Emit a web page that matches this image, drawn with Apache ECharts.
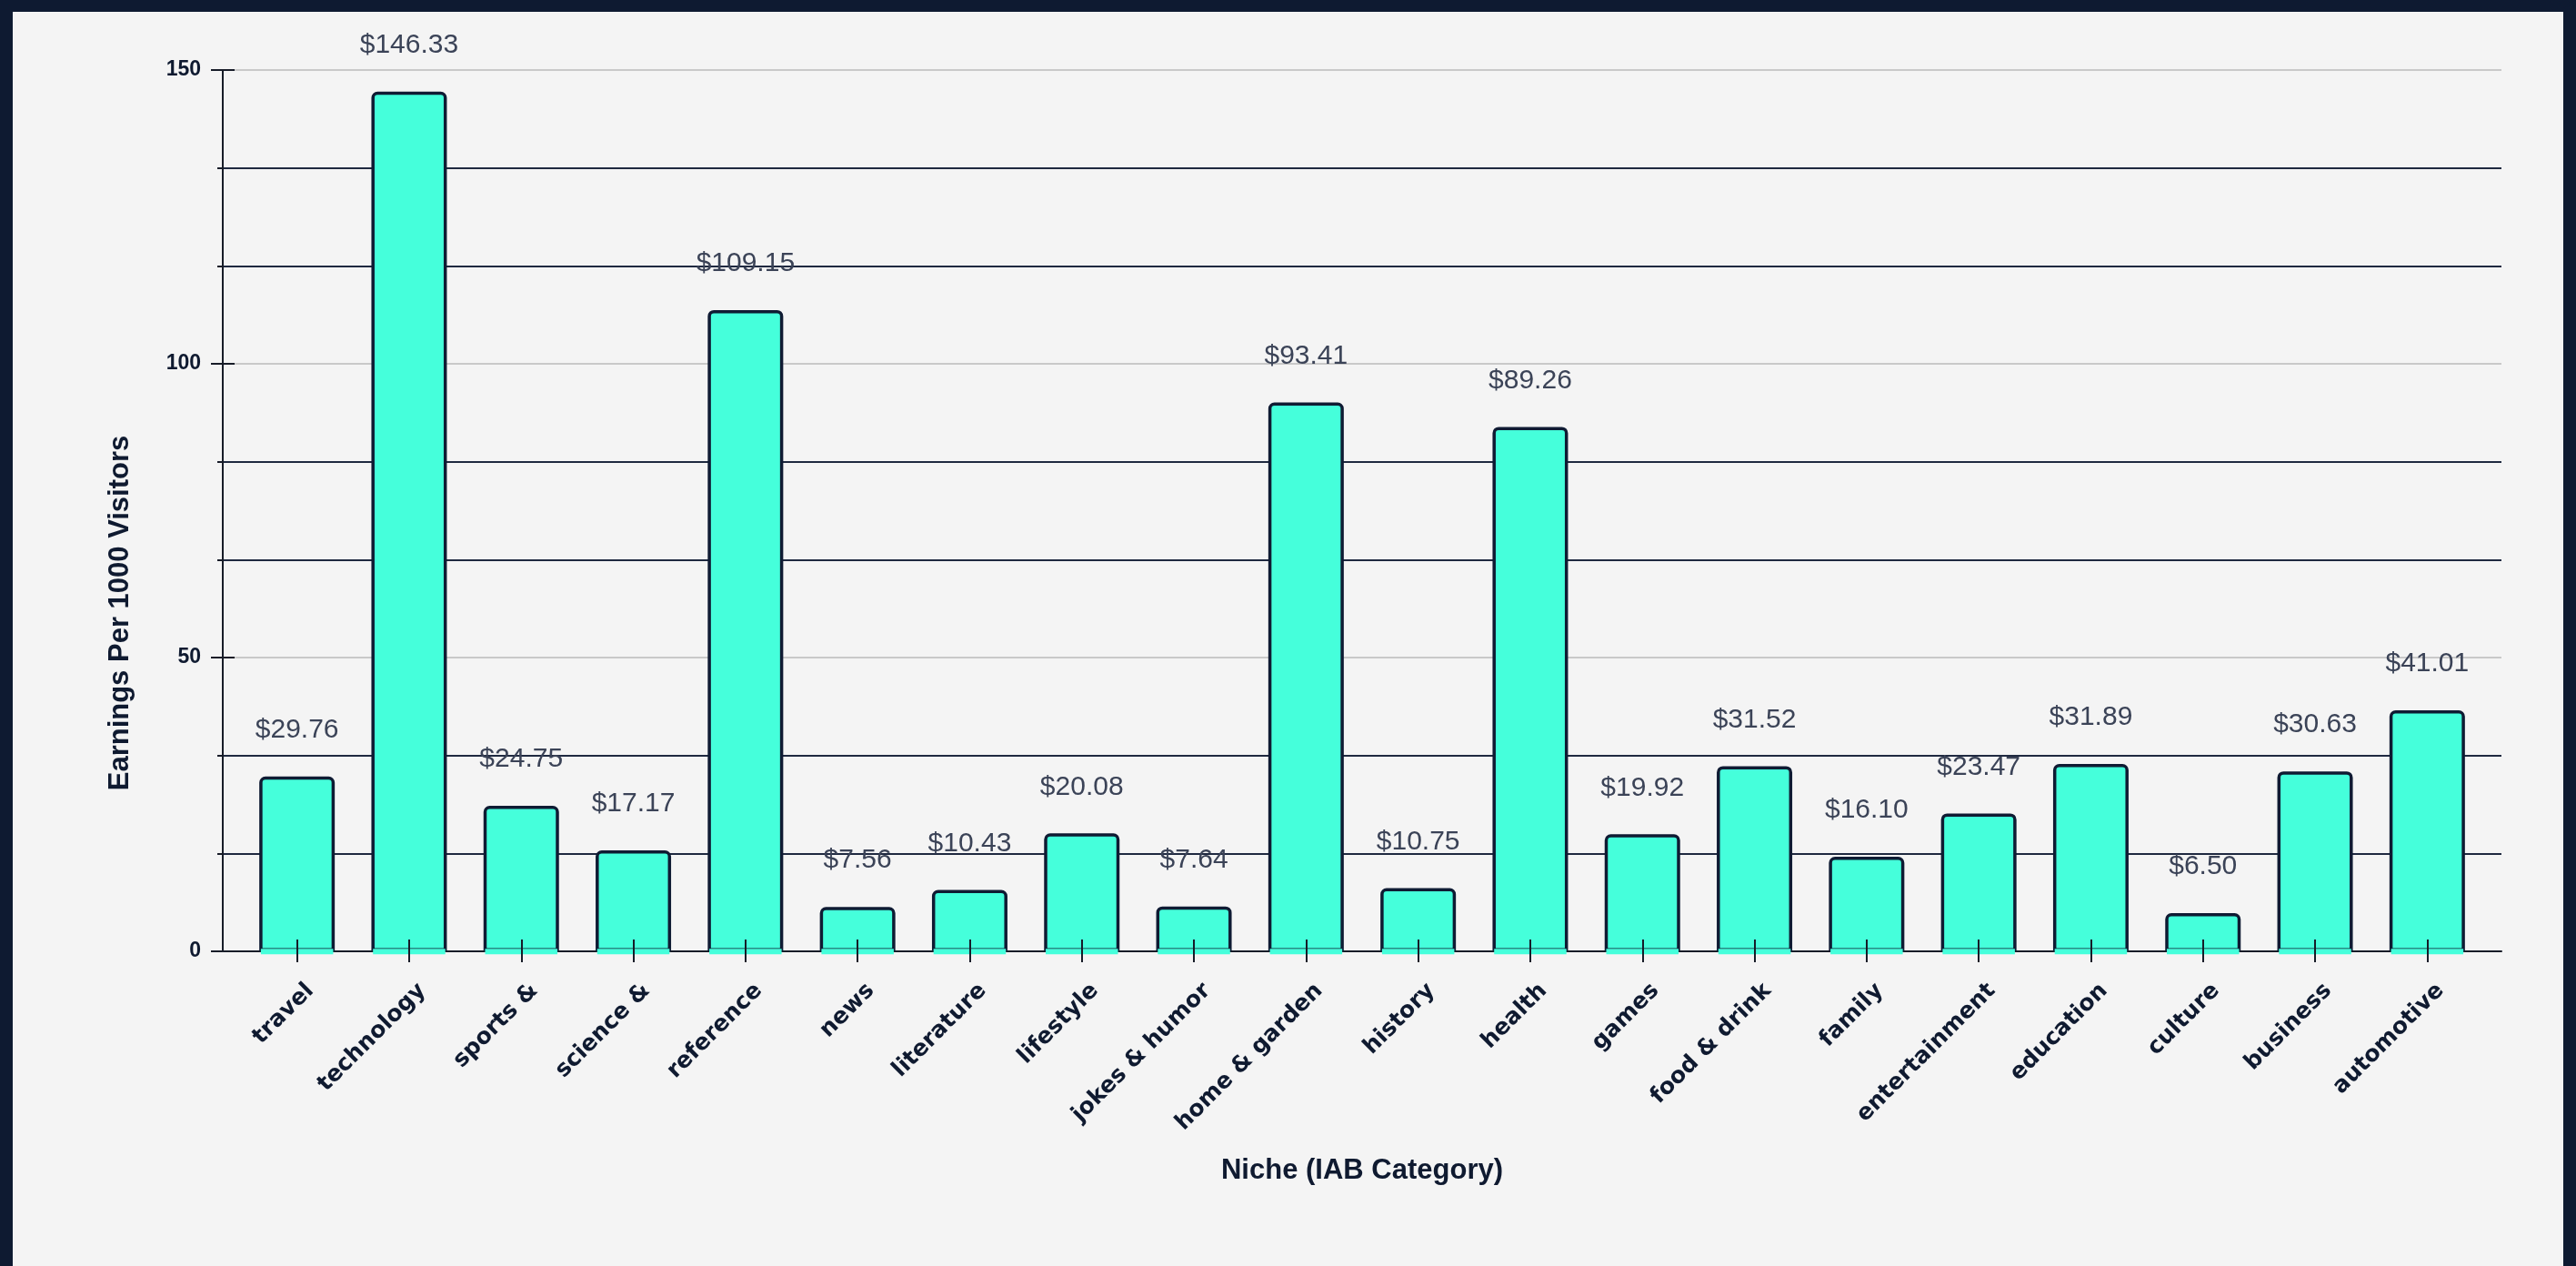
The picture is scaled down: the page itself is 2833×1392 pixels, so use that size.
<!DOCTYPE html>
<html>
<head>
<meta charset="utf-8">
<title>Earnings Per 1000 Visitors by Niche</title>
<script src="https://cdn.jsdelivr.net/npm/echarts@6/dist/echarts.min.js"></script>
<style>
  html, body { margin: 0; padding: 0; background: #0e1a31; overflow: hidden; }
  #chart { position: absolute; left: 14px; top: 13px; width: 2805px; height: 1379px; background: #f4f4f4; }
</style>
</head>
<body>
<div id="chart"></div>
<script>
// Niche categories (IAB) and their earnings per 1000 visitors, in USD
const categories = ['travel', 'technology', 'sports &', 'science &', 'reference', 'news', 'literature',
  'lifestyle', 'jokes & humor', 'home & garden', 'history', 'health', 'games', 'food & drink',
  'family', 'entertainment', 'education', 'culture', 'business', 'automotive'];
const earnings = [29.76, 146.33, 24.75, 17.17, 109.15, 7.56, 10.43, 20.08, 7.64, 93.41,
  10.75, 89.26, 19.92, 31.52, 16.10, 23.47, 31.89, 6.50, 30.63, 41.01];

// Value axis range and tick steps
const yMin = 0;
const yMax = 150;
const majorStep = 50;          // labelled ticks with light grid lines
const minorStep = 150 / 9;     // dark guide lines

const yTitle = 'Earnings Per 1000 Visitors';
const xTitle = 'Niche (IAB Category)';

const INK = '#0f1a30';
const LINE = '#171c28';
const FILL = '#45ffdb';
const BORDER_W = 3.5;
const BAR_W = 83;

const chart = echarts.init(document.getElementById('chart'), null, { renderer: 'canvas' });

const gridBox = { top: 64, height: 969 };

chart.setOption({
  animation: false,
  backgroundColor: '#f4f4f4',
  grid: [
    { left: 231, right: 68, top: gridBox.top, height: gridBox.height },
    { left: 251, right: 88, top: gridBox.top, height: gridBox.height }
  ],
  xAxis: [
    { // baseline across the full plot
      gridIndex: 0, type: 'value', min: 0, max: 1, position: 'bottom', z: 1,
      axisLine: { show: true, lineStyle: { color: LINE, width: 2 } },
      axisTick: { show: false }, axisLabel: { show: false }, splitLine: { show: false }
    },
    { // category labels with outward ticks
      gridIndex: 1, type: 'category', data: categories, z: 6, position: 'bottom',
      axisLine: { show: false },
      axisTick: { show: true, alignWithLabel: true, length: 12, lineStyle: { color: LINE, width: 2 } },
      axisLabel: {
        rotate: 45, interval: 0, margin: 25, align: 'right', verticalAlign: 'top',
        padding: [8, 0, 0, 0],
        fontFamily: 'DejaVu Sans', fontWeight: 'bold', fontSize: 25, color: INK
      },
      name: xTitle, nameLocation: 'middle', nameGap: 226,
      nameTextStyle: { fontFamily: 'Liberation Sans, Arial', fontWeight: 'bold', fontSize: 31, color: INK }
    },
    { // inward part of the category ticks, drawn over the bars
      gridIndex: 1, type: 'category', data: categories, z: 6, position: 'bottom',
      axisLine: { show: false },
      axisTick: { show: true, inside: true, alignWithLabel: true, length: 13, lineStyle: { color: LINE, width: 2 } },
      axisLabel: { show: false }
    }
  ],
  yAxis: [
    { // dark guide lines
      gridIndex: 0, type: 'value', min: yMin, max: yMax, interval: minorStep, z: 0, position: 'left',
      axisLine: { show: false },
      axisTick: { show: true, length: 6, lineStyle: { color: LINE, width: 2 } },
      axisLabel: { show: false },
      splitLine: { show: true, showMinLine: false, lineStyle: { color: '#1f2940', width: 2 } }
    },
    { // labelled value axis
      gridIndex: 0, type: 'value', min: yMin, max: yMax, interval: majorStep, z: 1, position: 'left',
      axisLine: { show: true, lineStyle: { color: LINE, width: 2 } },
      axisTick: { show: true, length: 13, lineStyle: { color: LINE, width: 2 } },
      axisLabel: { margin: 24, fontFamily: 'Liberation Sans, Arial', fontWeight: 'bold', fontSize: 23, color: INK },
      splitLine: { show: true, showMinLine: false, lineStyle: { color: '#c9c9c9', width: 2 } }
    },
    { // inward part of the labelled ticks
      gridIndex: 0, type: 'value', min: yMin, max: yMax, interval: majorStep, z: 1, position: 'left',
      axisLine: { show: false },
      axisTick: { show: true, inside: true, length: 13, lineStyle: { color: LINE, width: 2 } },
      axisLabel: { show: false }, splitLine: { show: false }
    },
    { // scale for the bars
      gridIndex: 1, type: 'value', min: yMin, max: yMax, show: false, position: 'left'
    }
  ],
  graphic: [{
    type: 'text', x: 118, y: 661, rotation: Math.PI / 2,
    style: {
      text: yTitle, fill: INK, align: 'center', verticalAlign: 'middle',
      font: 'bold 31px "Liberation Sans", Arial, sans-serif'
    }
  }],
  series: [
    {
      type: 'bar', xAxisIndex: 1, yAxisIndex: 3, data: earnings, barWidth: BAR_W, z: 2,
      itemStyle: { color: FILL, borderColor: '#0f1b33', borderWidth: BORDER_W, borderRadius: [5, 5, 0, 0] },
      label: {
        show: true, position: 'top', distance: 36,
        fontFamily: 'Liberation Sans, Arial', fontSize: 30, color: '#3b4357',
        formatter: p => '$' + p.value.toFixed(2)
      }
    },
    { // fills over the bottom edge of each bar so the fill meets the baseline
      type: 'custom', xAxisIndex: 1, yAxisIndex: 3, z: 3, silent: true,
      data: earnings.map((v, i) => [i, v]),
      renderItem: (params, api) => {
        const base = api.coord([api.value(0), 0]);
        const w = BAR_W - BORDER_W;
        return {
          type: 'rect',
          shape: { x: base[0] - w / 2, y: base[1] - BORDER_W / 2 - 1, width: w, height: BORDER_W + 2.5 },
          style: { fill: FILL }
        };
      }
    }
  ]
});
</script>
</body>
</html>
